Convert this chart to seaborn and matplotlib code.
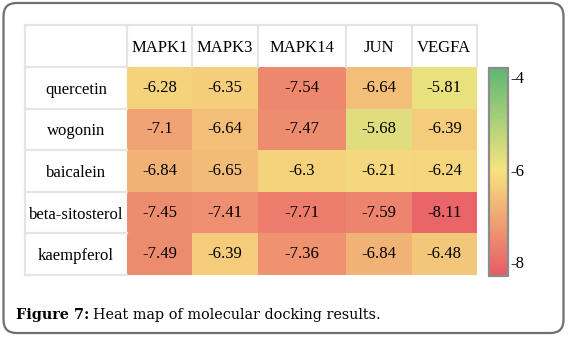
import numpy as np
import pandas as pd
import matplotlib
matplotlib.use("Agg")
import matplotlib.pyplot as plt
import seaborn as sns
from matplotlib.colors import LinearSegmentedColormap
from matplotlib.patches import FancyBboxPatch

plt.rcParams["axes.unicode_minus"] = False

# ---- data ----
compounds = ["quercetin", "wogonin", "baicalein", "beta-sitosterol", "kaempferol"]
targets = ["MAPK1", "MAPK3", "MAPK14", "JUN", "VEGFA"]
quercetin = [-6.28, -6.35, -7.54, -6.64, -5.81]
wogonin = [-7.1, -6.64, -7.47, -5.68, -6.39]
baicalein = [-6.84, -6.65, -6.3, -6.21, -6.24]
beta_sitosterol = [-7.45, -7.41, -7.71, -7.59, -8.11]
kaempferol = [-7.49, -6.39, -7.36, -6.84, -6.48]
cbar_ticks = [-4, -6, -8]
caption_bold = "Figure 7:"
caption_text = "Heat map of molecular docking results."

# ---- layout (relative column widths) ----
col_units = [11, 11, 15, 11, 11]

values = np.array([quercetin, wogonin, baicalein, beta_sitosterol, kaempferol])
idx = np.repeat(np.arange(len(targets)), col_units)
wide = values[:, idx]
annot = np.full(wide.shape, "", dtype=object)
starts = np.concatenate([[0], np.cumsum(col_units)[:-1]])
centers = starts + np.array(col_units) / 2
for j, (s, w) in enumerate(zip(starts, col_units)):
    annot[:, s + w // 2] = [f"{v:g}" for v in values[:, j]]

W, H = 568, 338
fig = plt.figure(figsize=(W / 100, H / 100), dpi=100)
fig.patch.set_facecolor("white")


def fx(x):
    return x / W


def fy(y):
    return 1 - y / H


SERIF = ["Liberation Serif", "DejaVu Serif"]

ax = fig.add_axes([fx(127), fy(275), fx(477) - fx(127), fy(67) - fy(275)])
cax = fig.add_axes([fx(489), fy(276), fx(508) - fx(489), fy(68) - fy(276)])

cmap = LinearSegmentedColormap.from_list(
    "ryg", [(0, "#E85A66"), (0.511, "#F6E47F"), (1, "#5DB874")])

sns.heatmap(pd.DataFrame(wide), ax=ax, cbar_ax=cax, cmap=cmap,
            vmin=-8.3, vmax=-3.8, annot=annot, fmt="",
            annot_kws=dict(fontsize=12, family=SERIF, color="black"),
            xticklabels=False, yticklabels=False, linewidths=0)

# column headers on top
ax.set_xticks(centers)
ax.set_xticklabels(targets, fontsize=12, family=SERIF)
ax.tick_params(axis="x", length=0, pad=13.5, labeltop=True, labelbottom=False,
               top=False, bottom=False)
for t in ax.get_xticklabels():
    t.set_va("center")

# row labels
ax.set_yticks(np.arange(len(compounds)) + 0.5)
ax.set_yticklabels(compounds, rotation=0, fontsize=12, family=SERIF)
ax.tick_params(axis="y", length=0, pad=36.7)
for t in ax.get_yticklabels():
    t.set_ha("center")

# table grid lines in label/header area
px = 350 / sum(col_units)
xl = -102 / px
yt = -42 / 41.6
gc = "#E4E4E4"
ntot = sum(col_units)
for r in range(len(compounds) + 1):
    ax.plot([xl, 0], [r, r], color=gc, lw=1.6, clip_on=False, zorder=3)
ax.plot([xl, ntot], [yt, yt], color=gc, lw=1.6, clip_on=False, zorder=3)
ax.plot([xl, xl], [yt, len(compounds)], color=gc, lw=1.6, clip_on=False, zorder=3)
bounds = list(starts) + [ntot]
for b in bounds:
    ax.plot([b, b], [yt, 0], color=gc, lw=1.6, clip_on=False, zorder=3)

# colorbar
cbar = ax.collections[0].colorbar
cbar.set_ticks(cbar_ticks)
cbar.ax.tick_params(length=0, pad=2, labelsize=12)
for t in cbar.ax.get_yticklabels():
    t.set_family(SERIF)
cbar.outline.set_visible(True)
cbar.outline.set_edgecolor("#8C8C8C")
cbar.outline.set_linewidth(1.6)

# rounded frame
box = FancyBboxPatch((0.035, 0.05), 5.6, 3.30,
                     boxstyle="round,pad=0,rounding_size=0.13",
                     transform=fig.dpi_scale_trans, fill=False,
                     edgecolor="#6E6E6E", lw=1.6)
fig.patches.append(box)

# caption
t1 = fig.text(fx(16), fy(315), caption_bold, fontweight="bold",
              family="DejaVu Serif", fontsize=10.4, va="center")
fig.canvas.draw()
bb = t1.get_window_extent()
fig.text((bb.x1 + 4) / W, fy(315), caption_text, family="DejaVu Serif",
         fontsize=10.4, va="center")

fig.savefig("out.png", dpi=100)
